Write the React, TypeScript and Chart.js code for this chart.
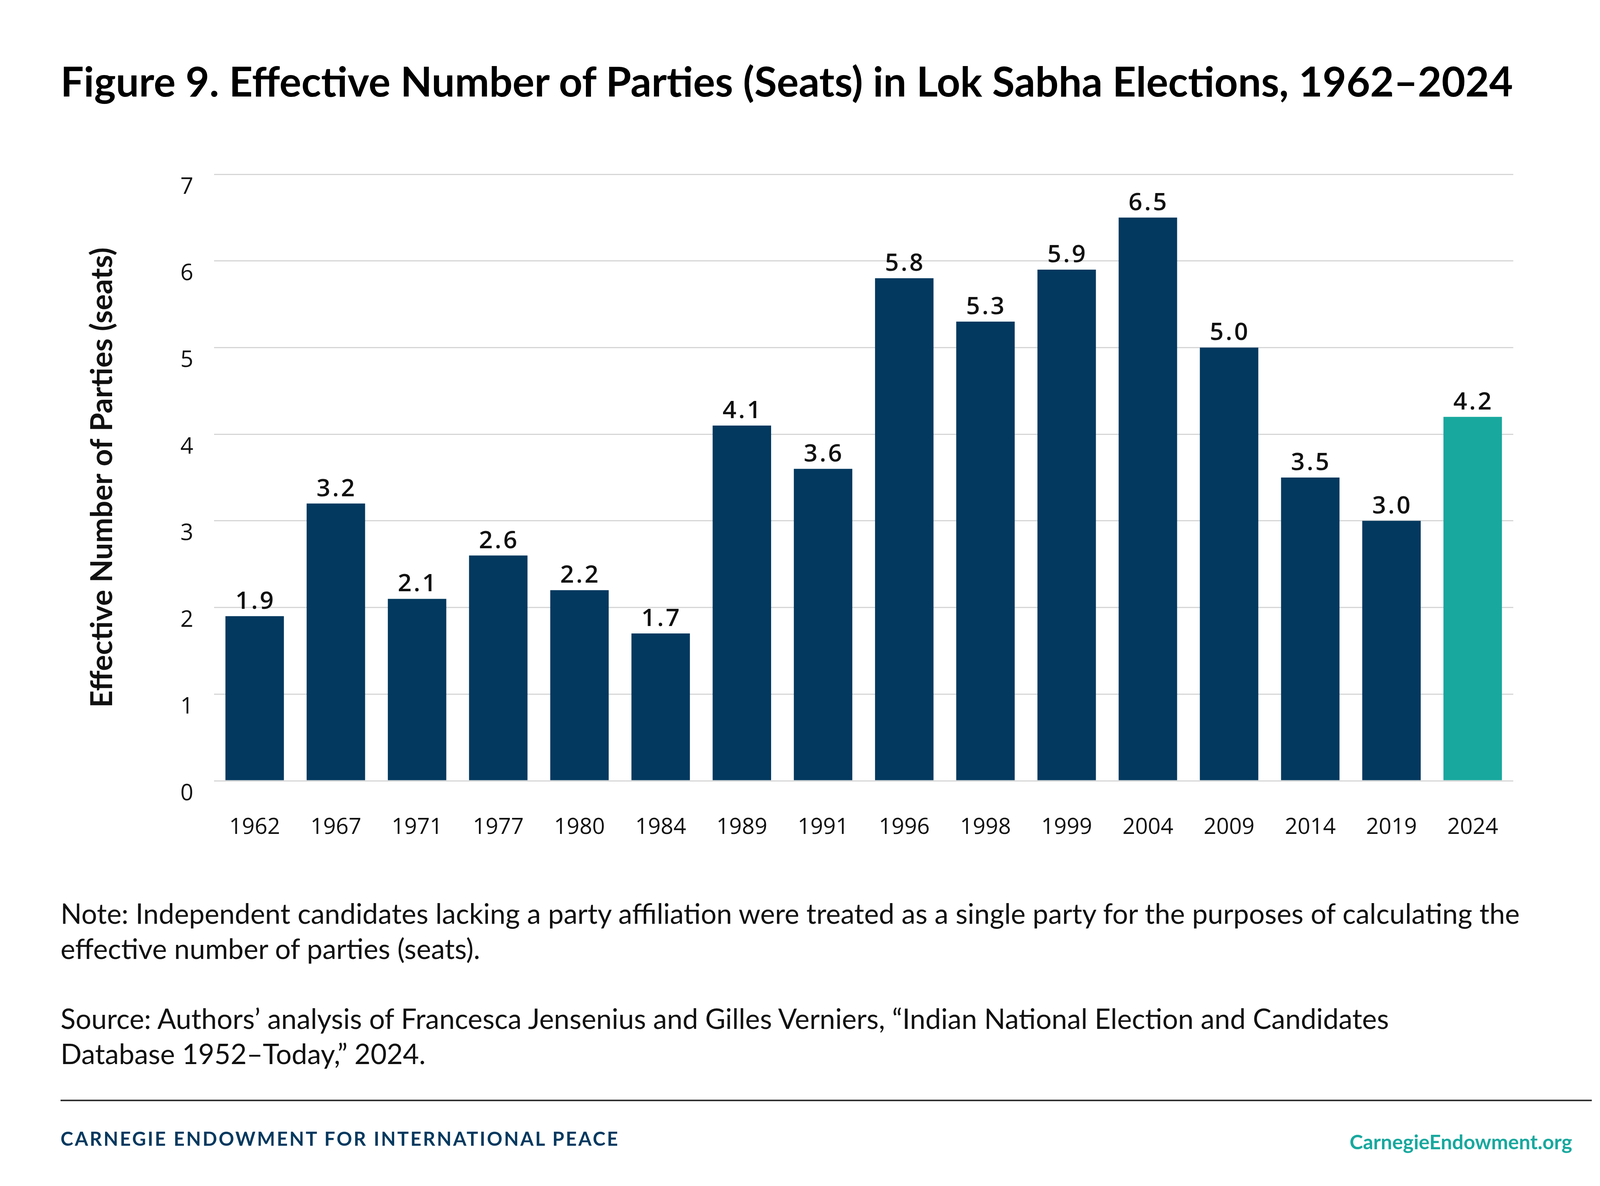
import React, { useEffect, useMemo, useRef } from 'react';
import { Chart, registerables } from 'chart.js';

Chart.register(...registerables);

// Lok Sabha election years and effective number of parties (seats)
const electionYears = [
  '1962', '1967', '1971', '1977', '1980', '1984', '1989', '1991',
  '1996', '1998', '1999', '2004', '2009', '2014', '2019', '2024',
];
const effectiveParties = [
  1.9, 3.2, 2.1, 2.6, 2.2, 1.7, 4.1, 3.6,
  5.8, 5.3, 5.9, 6.5, 5.0, 3.5, 3.0, 4.2,
];
const highlightYear = '2024';
const yMin = 0;
const yMax = 7;
const yStep = 1;

const NAVY = '#03395f';
const TEAL = '#18a89e';
const GRID = '#d6d6d6';
const TEXT = '#111111';

const TITLE = 'Figure 9. Effective Number of Parties (Seats) in Lok Sabha Elections, 1962–2024';
const Y_TITLE = 'Effective Number of Parties (seats)';
const NOTE_LINES = [
  'Note: Independent candidates lacking a party affiliation were treated as a single party for the purposes of calculating the',
  'effective number of parties (seats).',
];
const SOURCE_LINES = [
  'Source: Authors’ analysis of Francesca Jensenius and Gilles Verniers, “Indian National Election and Candidates',
  'Database 1952–Today,” 2024.',
];
const FOOTER_LEFT = 'CARNEGIE ENDOWMENT FOR INTERNATIONAL PEACE';
const FOOTER_RIGHT = 'CarnegieEndowment.org';

const FAMILY = 'Lato, "Open Sans", sans-serif';

// size a font so that a string spans the given width
function fitSize(text: string, weight: string, family: string, width: number) {
  const ctx = document.createElement('canvas').getContext('2d')!;
  ctx.font = `${weight} 100px ${family}`;
  return (100 * width) / ctx.measureText(text).width;
}

function measure(text: string, weight: string, size: number, family: string) {
  const ctx = document.createElement('canvas').getContext('2d')!;
  ctx.font = `${weight} ${size}px ${family}`;
  return ctx.measureText(text).width;
}

// text placed by its baseline (Lato: baseline sits 0.887em below top with line-height 1)
const Line: React.FC<{
  text: string;
  left: number;
  baseline: number;
  size: number;
  weight?: number;
  color?: string;
  spacing?: number;
}> = ({ text, left, baseline, size, weight = 400, color = TEXT, spacing = 0 }) => (
  <div
    style={{
      position: 'absolute',
      left,
      top: baseline - 0.887 * size,
      fontFamily: FAMILY,
      fontSize: size,
      fontWeight: weight,
      lineHeight: 1,
      color,
      whiteSpace: 'nowrap',
      letterSpacing: spacing,
    }}
  >
    {text}
  </div>
);

const valueLabels = {
  id: 'valueLabels',
  afterDatasetsDraw(chart: any) {
    const { ctx } = chart;
    const meta = chart.getDatasetMeta(0);
    ctx.save();
    ctx.font = '600 62px "Open Sans"';
    ctx.letterSpacing = '5px';
    ctx.fillStyle = TEXT;
    ctx.textAlign = 'center';
    ctx.textBaseline = 'alphabetic';
    meta.data.forEach((bar: any, i: number) => {
      ctx.fillText(effectiveParties[i].toFixed(1), bar.x + 2, bar.y - 19);
    });
    ctx.restore();
  },
};

const CANVAS_TOP = 380;
const CANVAS_W = 4167;
const CANVAS_H = 1850;

const BarChart: React.FC<{ yTitleSize: number }> = ({ yTitleSize }) => {
  const chartRef = useRef<HTMLCanvasElement>(null);

  useEffect(() => {
    if (!chartRef.current) return;
    const chart = new Chart(chartRef.current, {
      type: 'bar',
      data: {
        labels: electionYears,
        datasets: [
          {
            data: effectiveParties,
            backgroundColor: electionYears.map((y) => (y === highlightYear ? TEAL : NAVY)),
            barPercentage: 0.72,
            categoryPercentage: 1,
          },
        ],
      },
      options: {
        animation: false,
        responsive: false,
        devicePixelRatio: 1,
        layout: { padding: { left: 0, right: 293, top: 66, bottom: 0 } },
        plugins: {
          legend: { display: false },
          tooltip: { enabled: false },
        },
        scales: {
          x: {
            grid: { display: false },
            border: { display: false },
            ticks: {
              color: TEXT,
              font: { family: '"Open Sans"', size: 57 },
              padding: 78,
              maxRotation: 0,
              autoSkip: false,
            },
            afterFit: (scale: any) => {
              scale.height = 232;
            },
          },
          y: {
            min: yMin,
            max: yMax,
            grid: { color: GRID, lineWidth: 3, drawTicks: false },
            border: { display: false },
            ticks: {
              stepSize: yStep,
              color: TEXT,
              font: { family: '"Open Sans"', size: 58 },
              padding: 53,
              labelOffset: 33,
            },
            title: {
              display: true,
              text: Y_TITLE,
              color: TEXT,
              font: { family: FAMILY, size: yTitleSize, weight: 'bold' },
              padding: { top: 262 - yTitleSize * 0.6, bottom: 0 },
            },
            afterFit: (scale: any) => {
              scale.width = 548;
              // keep the plot area where the layout padding puts it
              scale.paddingTop = 0;
              scale.paddingBottom = 0;
            },
          },
        },
      },
      plugins: [valueLabels],
    });
    return () => chart.destroy();
  }, [yTitleSize]);

  return (
    <canvas
      ref={chartRef}
      width={CANVAS_W}
      height={CANVAS_H}
      style={{ position: 'absolute', left: 0, top: CANVAS_TOP, width: CANVAS_W, height: CANVAS_H }}
    />
  );
};

export default function App() {
  const sizes = useMemo(() => {
    const title = fitSize(TITLE, '700', FAMILY, 3723);
    const note = fitSize(NOTE_LINES[0], '400', FAMILY, 3744);
    const yTitle = fitSize(Y_TITLE, '700', FAMILY, 1178);
    const footRight = fitSize(FOOTER_RIGHT, '700', FAMILY, 570);
    const footLeft = 49;
    const w0 = measure(FOOTER_LEFT, '700', footLeft, FAMILY);
    const footSpacing = (1430 - w0) / (FOOTER_LEFT.length - 1);
    return { title, note, yTitle, footRight, footLeft, footSpacing };
  }, []);

  return (
    <div style={{ position: 'absolute', left: 0, top: 0, width: 4167, height: 3035, background: '#fff', overflow: 'hidden' }}>
      <Line text={TITLE} left={155} baseline={247} size={sizes.title} weight={700} color="#000" />
      <BarChart yTitleSize={sizes.yTitle} />
      <Line text={NOTE_LINES[0]} left={155} baseline={2364} size={sizes.note} />
      <Line text={NOTE_LINES[1]} left={155} baseline={2454} size={sizes.note} />
      <Line text={SOURCE_LINES[0]} left={155} baseline={2633} size={sizes.note} />
      <Line text={SOURCE_LINES[1]} left={155} baseline={2723} size={sizes.note} />
      <div style={{ position: 'absolute', left: 155, top: 2814, width: 3920, height: 4, background: '#333' }} />
      <Line text={FOOTER_LEFT} left={155} baseline={2932} size={sizes.footLeft} weight={700} color={NAVY} spacing={sizes.footSpacing} />
      <Line text={FOOTER_RIGHT} left={3455} baseline={2942} size={sizes.footRight} weight={700} color={TEAL} />
    </div>
  );
}
